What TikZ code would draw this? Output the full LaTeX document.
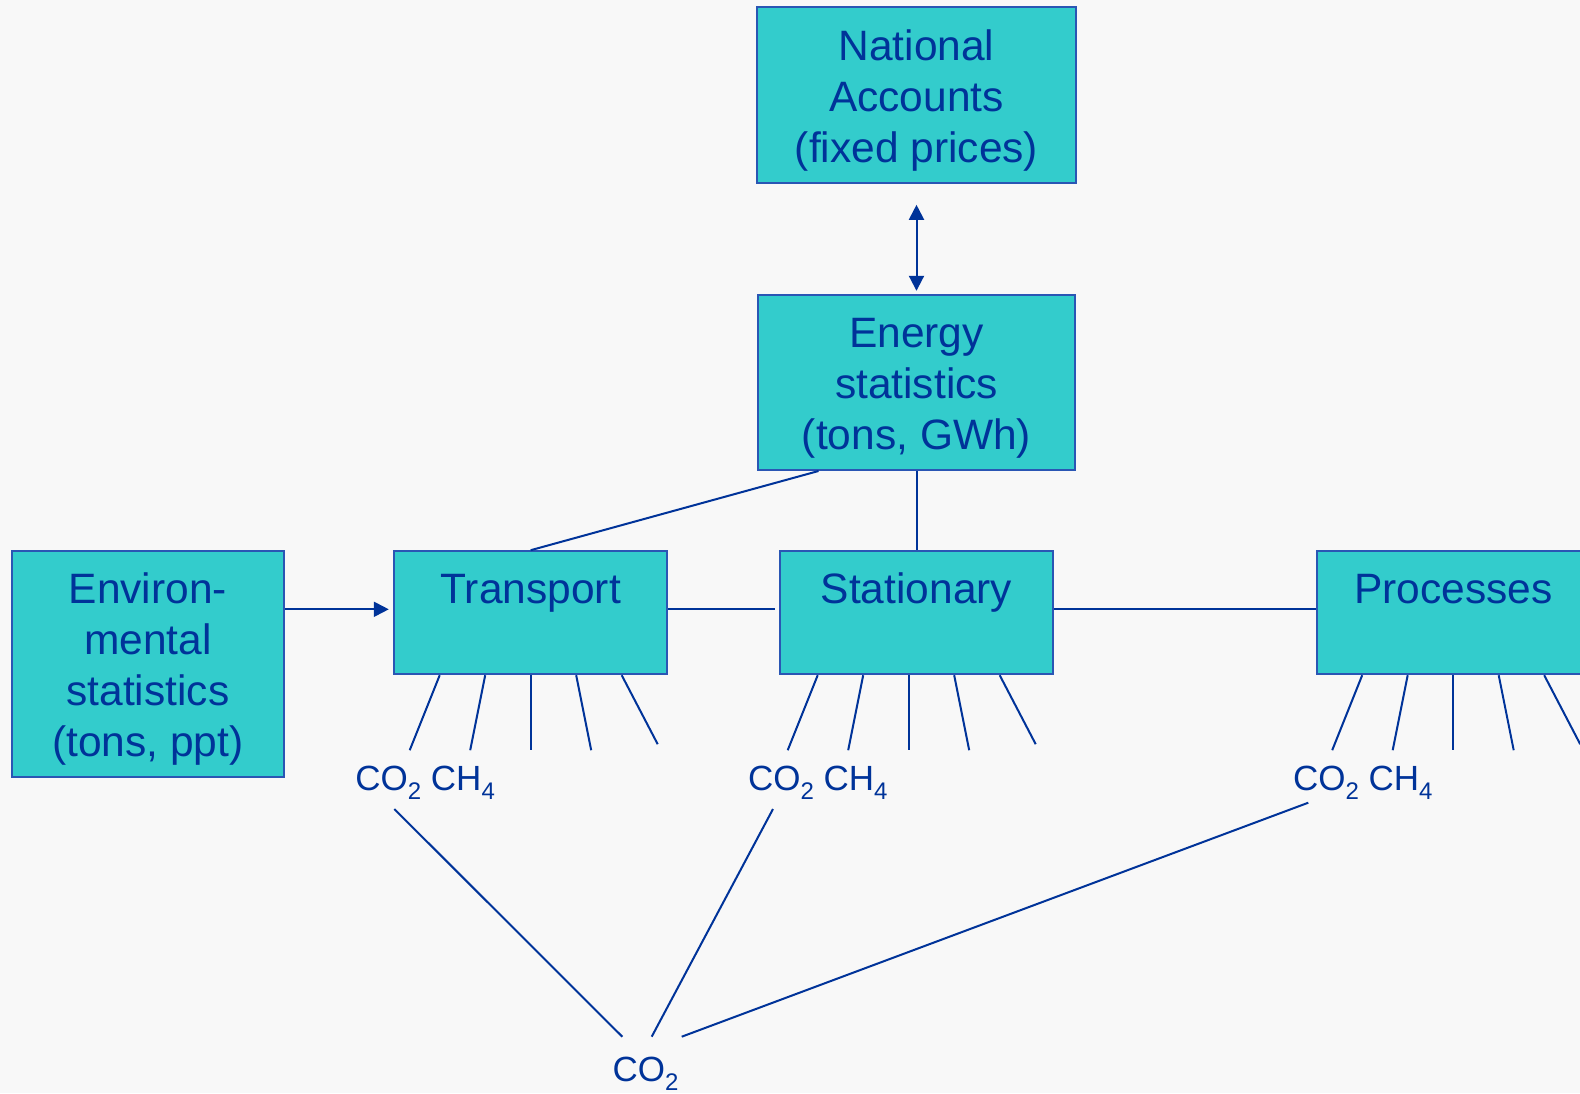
\documentclass[tikz,border=0pt]{standalone}
\usepackage{fontspec}
\setmainfont{Liberation Sans}
\usetikzlibrary{arrows.meta}
\definecolor{boxcyan}{HTML}{33CCCC}
\definecolor{textblue}{HTML}{003399}
\definecolor{edgeblue}{HTML}{2A56B4}
\definecolor{bggray}{HTML}{F8F8F8}
\newcommand{\chemsub}[1]{\raisebox{-0.28em}{\fontsize{12}{13}\selectfont #1}}
\newcommand{\topgap}{\rule{0pt}{20.6pt}}

\begin{document}
\begin{tikzpicture}[x=0.5pt, y=-0.5pt,
    statbox/.style={draw=edgeblue, line width=1pt, fill=boxcyan, text=textblue,
        inner sep=0pt, align=center, font=\fontsize{21.25}{25.5}\selectfont},
    sectorbox/.style={statbox, minimum width=136.5pt, text height=26pt, text depth=35.5pt},
    gaslabel/.style={text=textblue, inner sep=0pt, anchor=base west, font=\fontsize{17.5}{20}\selectfont},
    link/.style={draw=textblue, line width=1pt}]
    \useasboundingbox (0,0) rectangle (1580,1093);
    \fill[bggray] (0,0) rectangle (1580,1093);
    \clip (0,0) rectangle (1580,1093);

    % boxes
    \node[statbox, minimum width=159.5pt, minimum height=88pt] (nat) at (916.5,95.2) {\topgap National\\Accounts\\(fixed prices)};
    \node[statbox, minimum width=158.5pt, minimum height=87.5pt] (en) at (916.5,382.5) {\topgap Energy\\statistics\\(tons, GWh)};
    \node[statbox, minimum width=136.2pt, minimum height=113pt] (env) at (147.8,663.9) {\topgap Environ-\\mental\\statistics\\(tons, ppt)};
    \node[sectorbox] (tra) at (530.7,612.7) {Transport};
    \node[sectorbox] (sta) at (916.5,612.7) {Stationary};
    \node[sectorbox] (pro) at (1453.2,612.7) {Processes};
    \coordinate (row) at (0,609.3);

    % gas labels
    \node[gaslabel] (co-tra) at (355,790) {CO\chemsub{2} CH\chemsub{4}};
    \node[gaslabel] (co-sta) at (747.7,790) {CO\chemsub{2} CH\chemsub{4}};
    \node[gaslabel] (co-pro) at (1292.7,790) {CO\chemsub{2} CH\chemsub{4}};
    \node[gaslabel] (co-all) at (612.3,1081) {CO\chemsub{2}};

    % connections
    \draw[link, {Triangle[length=7.5pt,width=7.5pt]}-{Triangle[length=7.5pt,width=7.5pt]},
        shorten <=10.3pt, shorten >=1.6pt] (nat.south) -- (en.north);
    \draw[link, -{Triangle[length=7.5pt,width=7.5pt]}, shorten >=2.2pt] (env.east |- row) -- (tra.west |- row);
    \draw[link, shorten >=2pt] (tra.east |- row) -- (sta.west |- row);
    \draw[link] (sta.east |- row) -- (pro.west |- row);
    \draw[link] ([xshift=-49pt]en.south) -- (tra.north);
    \draw[link] (en.south) -- (sta.north);

    % emission stubs
    \foreach \n/\s in {tra/0, sta/-7.8, pro/0}
        \foreach \t/\b/\d in {-91/-121/75, -45.5/-60.5/75, 0/0/75, 45.5/60.5/75, 91/127/69}
            \draw[link] (\n.south) ++({\s+\t},0) -- ++({\b-(\t)},\d);

    % towards total CO2
    \draw[link] ([shift={(19.65pt,-9.5pt)}]co-tra.base west) -- ([shift={(5pt,22.15pt)}]co-all.base west);
    \draw[link] ([shift={(12.65pt,-9.5pt)}]co-sta.base west) -- ([shift={(19.7pt,22.15pt)}]co-all.base west);
    \draw[link] ([shift={(7.8pt,-6.35pt)}]co-pro.base west) -- ([shift={(34.7pt,22.15pt)}]co-all.base west);
\end{tikzpicture}
\end{document}
